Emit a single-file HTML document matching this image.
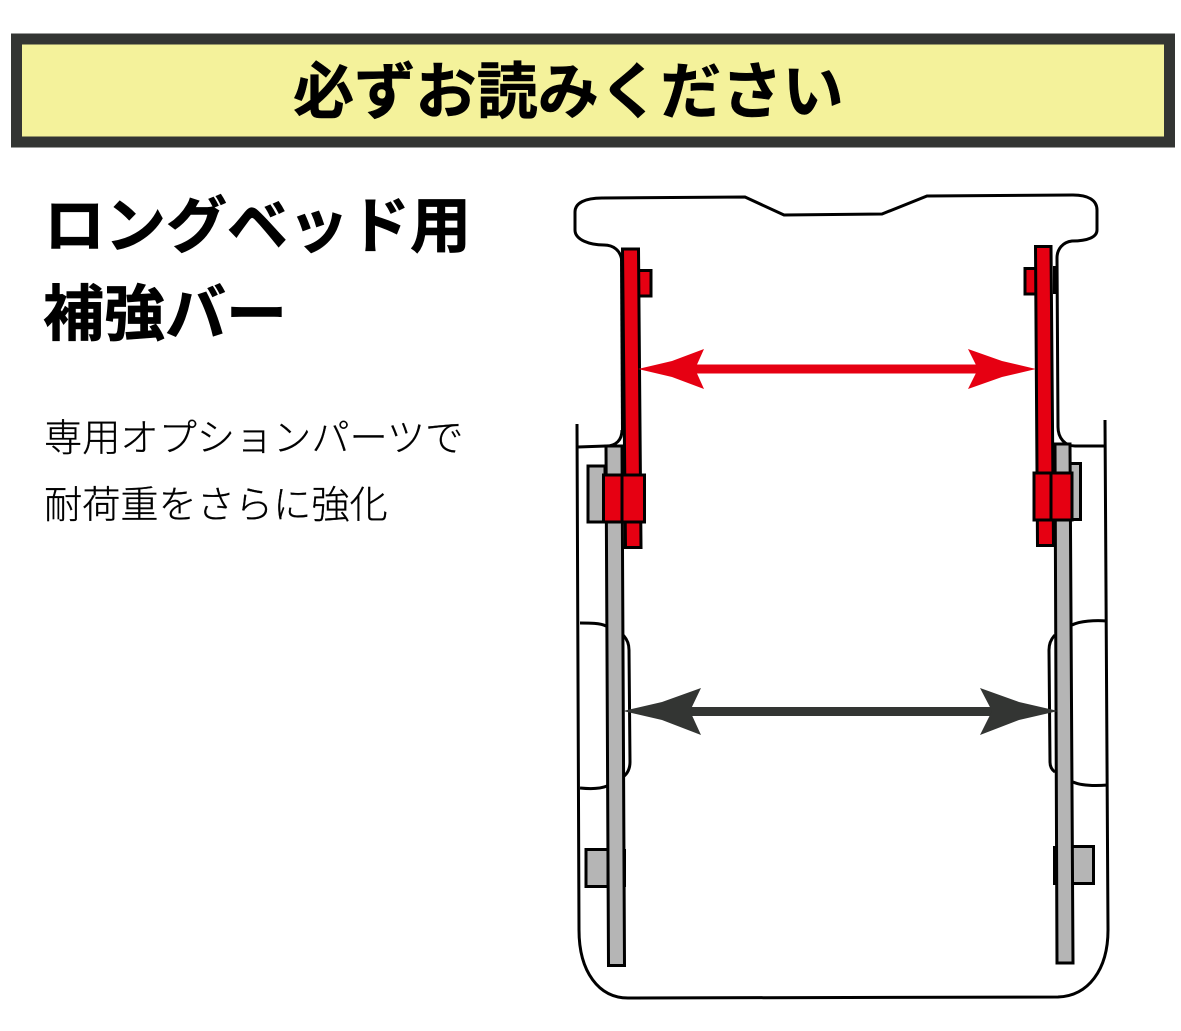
<!DOCTYPE html>
<html lang="ja">
<head>
<meta charset="utf-8">
<style>
html,body{margin:0;padding:0;background:#fff}
svg{display:block}
text{font-family:"Liberation Sans","Noto Sans CJK JP",sans-serif}
</style>
</head>
<body>
<svg width="1181" height="1031" viewBox="0 0 1181 1031" xmlns="http://www.w3.org/2000/svg">
<rect width="1181" height="1031" fill="#fff"/>
<rect x="16.500" y="39" width="1153" height="103" fill="#f4f29b" stroke="#333533" stroke-width="11"/>
<text x="293" y="113" font-size="61.200" font-weight="700" fill="#000" stroke="#000" stroke-width="0.500">必ずお読みください</text>
<text x="44" y="247" font-size="61" font-weight="700" fill="#000" stroke="#000" stroke-width="0.700">ロングベッド用</text>
<text x="43" y="335" font-size="61" font-weight="700" fill="#000" stroke="#000" stroke-width="0.700">補強バー</text>
<text x="44" y="451" font-size="38.200" font-weight="300" fill="#000" stroke="#000" stroke-width="0.300">専用オプションパーツで</text>
<text x="44" y="518" font-size="38.200" font-weight="300" fill="#000" stroke="#000" stroke-width="0.300">耐荷重をさらに強化</text>

<g fill="none" stroke="#000" stroke-width="3">
<path d="M622 262C621 250 613 245 604 245C590 245 575 240 575 230L575 212C575 203 585 198 602 198L745 197L784 215L882 214L927 196L1073 195C1088 195 1097 200 1097 210L1097 230C1097 237 1088 241 1072 241C1063 242 1057 249 1057 258L1058 427C1058 438 1065 446 1075 446L1105 446"/>
<path d="M622 430C622 440 616 446 606 446L578 447"/>
<path d="M577 424L579 930C579 972 599 998 628 998L1058 997C1088 996 1108 970 1108 930L1105 420"/>
<path d="M580 623C590 623 600 623 606 626"/>
<path d="M580 788C590 789 600 789 607 786"/>
<path d="M623 635C627 639 629 644 629 650L630 762C630 769 627 774 623 777"/>
<path d="M1072 625C1080 621 1095 620 1107 621"/>
<path d="M1073 782C1082 786 1095 786 1108 785"/>
<path d="M1055 635C1051 639 1049 644 1049 650L1050 762C1050 767 1052 770 1055 772"/>
</g>
<polygon points="620,258 624,258 626,432 621,432" fill="#000"/>
<rect x="1053" y="266" width="4" height="28" fill="#000"/>
<rect x="622" y="849" width="4" height="38" fill="#000"/>
<rect x="1053" y="846" width="4" height="39" fill="#000"/>

<g stroke="#000" stroke-width="3">
<rect x="586" y="849.500" width="22" height="37" fill="#b5b5b5"/>
<rect x="1072" y="846.500" width="21.500" height="37" fill="#b5b5b5"/>
<rect x="588" y="466" width="17" height="56" fill="#b5b5b5"/>
<rect x="1068" y="463.500" width="12.500" height="56" fill="#b5b5b5"/>
<polygon points="606,446 622,446 624.500,965.500 608.500,965.500" fill="#b5b5b5"/>
<polygon points="1055,444 1070,444 1073,963 1057,963" fill="#b5b5b5"/>
<rect x="638" y="270.500" width="13" height="25.500" fill="#e60012"/>
<rect x="1025" y="268.500" width="11" height="25.500" fill="#e60012"/>
<polygon points="622.500,249 638.500,249 641,547.500 625.500,547.500" fill="#e60012"/>
<polygon points="1035.500,246.500 1051,246.500 1053.500,545.500 1037.500,545.500" fill="#e60012"/>
<rect x="603.500" y="475" width="41" height="47" fill="#e60012"/>
<line x1="622" y1="475" x2="622" y2="522"/>
<rect x="1034" y="473" width="38" height="47" fill="#e60012"/>
<line x1="1051" y1="473" x2="1051" y2="520"/>
</g>

<rect x="695" y="364.500" width="285" height="9" fill="#e60012"/>
<polygon points="638,369 672,361 704,349 695,369 704,389 672,377" fill="#e60012"/>
<polygon points="1036,369 1002,361 968,349 978,369 968,389 1002,377" fill="#e60012"/>
<rect x="690" y="707" width="305" height="9" fill="#333533"/>
<polygon points="623,711 662,702 701,688 690,711 701,735 662,720" fill="#333533"/>
<polygon points="1058,711 1019,702 980,688 992,711 980,735 1019,720" fill="#333533"/>
</svg>
</body>
</html>
